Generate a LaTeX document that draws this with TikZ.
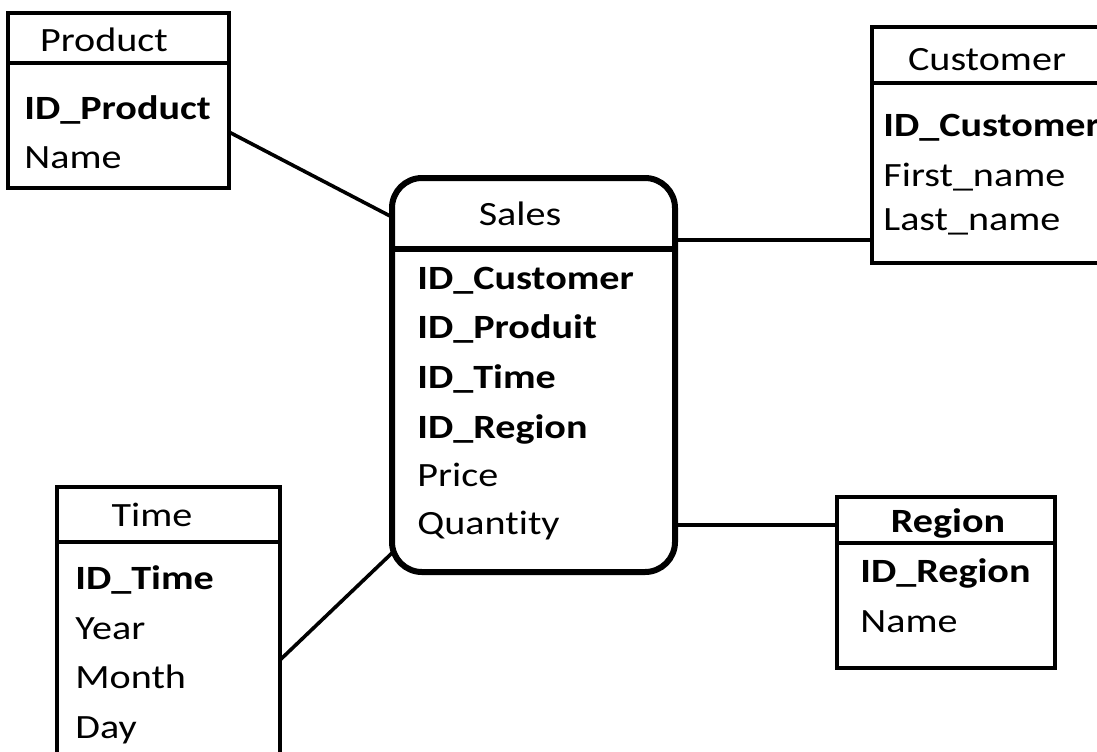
\documentclass[tikz,border=0pt]{standalone}
\usepackage{fontspec}
\setmainfont{Carlito}[FakeStretch=1.18, Ligatures={NoCommon}]
\begin{document}
\begin{tikzpicture}[x=0.5pt,y=-0.5pt,
  table/.style={draw=black, line width=2pt, inner sep=0pt, outer sep=0pt, anchor=north west},
  fact/.style={draw=black, line width=3pt, rounded corners=15pt, inner sep=0pt, outer sep=0pt, anchor=north west},
  link/.style={draw=black, line width=1.8pt},
  head/.style={anchor=base, inner sep=0pt, font=\fontsize{17}{20}\selectfont},
  field/.style={anchor=base west, inner sep=0pt, font=\fontsize{17}{20}\selectfont},
  key/.style={field, font=\fontsize{17}{20}\selectfont\bfseries}]
\useasboundingbox (0,0) rectangle (1097,751);
\fill[white] (0,0) rectangle (1097,751);
\clip (0,0) rectangle (1097,751);

% tables
\node[table, minimum width=110.5pt, minimum height=87.5pt] (product) at (8,13) {};
\node[fact, minimum width=141.5pt, minimum height=197pt] (sales) at (392,178) {};
\node[table, minimum width=124pt, minimum height=118pt] (customer) at (872,27) {};
\node[table, minimum width=111.5pt, minimum height=146.5pt] (time) at (57,487) {};
\node[table, minimum width=109pt, minimum height=85.5pt] (region) at (837,497) {};

% header separators
\coordinate (hp) at (0,63);
\coordinate (hs) at (0,249);
\coordinate (hc) at (0,83);
\coordinate (ht) at (0,542);
\coordinate (hr) at (0,543);
\coordinate (hrx) at (1057,543);
\draw[line width=2pt] (product.west |- hp) -- (product.east |- hp);
\draw[line width=3pt] (sales.west |- hs) -- (sales.east |- hs);
\draw[line width=2pt] (customer.west |- hc) -- (customer.east |- hc);
\draw[line width=2pt] (time.west |- ht) -- (time.east |- ht);
\draw[line width=2pt] (region.west |- hr) -- (hrx);

% connectors
\coordinate (yp) at (0,132);
\coordinate (ysp) at (0,217);
\coordinate (yc) at (0,240);
\coordinate (yt) at (0,660);
\coordinate (yst) at (0,553);
\coordinate (yr) at (0,525);
\draw[link] (product.east |- yp) -- (sales.west |- ysp);
\draw[link] (sales.east |- yc) -- (customer.west |- yc);
\draw[link] (time.east |- yt) -- (sales.west |- yst);
\draw[link] (sales.east |- yr) -- (region.west |- yr);

% Product
\node[head] (tp) at (104,51) {Product};
\node[key] (p1) at (24,119) {ID\_Product};
\node[field] (p2) at (24,168) {Name};

% Sales
\node[head] (ts) at (520,225) {Sales};
\node[key] (s1) at (417,289) {ID\_Customer};
\node[key] (s2) at (417,338) {ID\_Produit};
\node[key] (s3) at (417,388) {ID\_Time};
\node[key] (s4) at (417,438) {ID\_Region};
\node[field] (s5) at (417,486) {Price};
\node[field] (s6) at (417,534) {Quantity};

% Customer
\node[head] (tc) at (987,70) {Customer};
\node[key] (c1) at (883,136) {ID\_Customer};
\node[field] (c2) at (883,186) {First\_name};
\node[field] (c3) at (883,230) {Last\_name};

% Time
\node[head] (tt) at (152,526) {Time};
\node[key] (t1) at (75,589) {ID\_Time};
\node[field] (t2) at (75,639) {Year};
\node[field] (t3) at (75,688) {Month};
\node[field] (t4) at (75,738) {Day};

% Region
\node[head, font=\fontsize{17}{20}\selectfont\bfseries] (tr) at (948,532) {Region};
\node[key] (r1) at (860,582) {ID\_Region};
\node[field] (r2) at (860,632) {Name};
\end{tikzpicture}
\end{document}
